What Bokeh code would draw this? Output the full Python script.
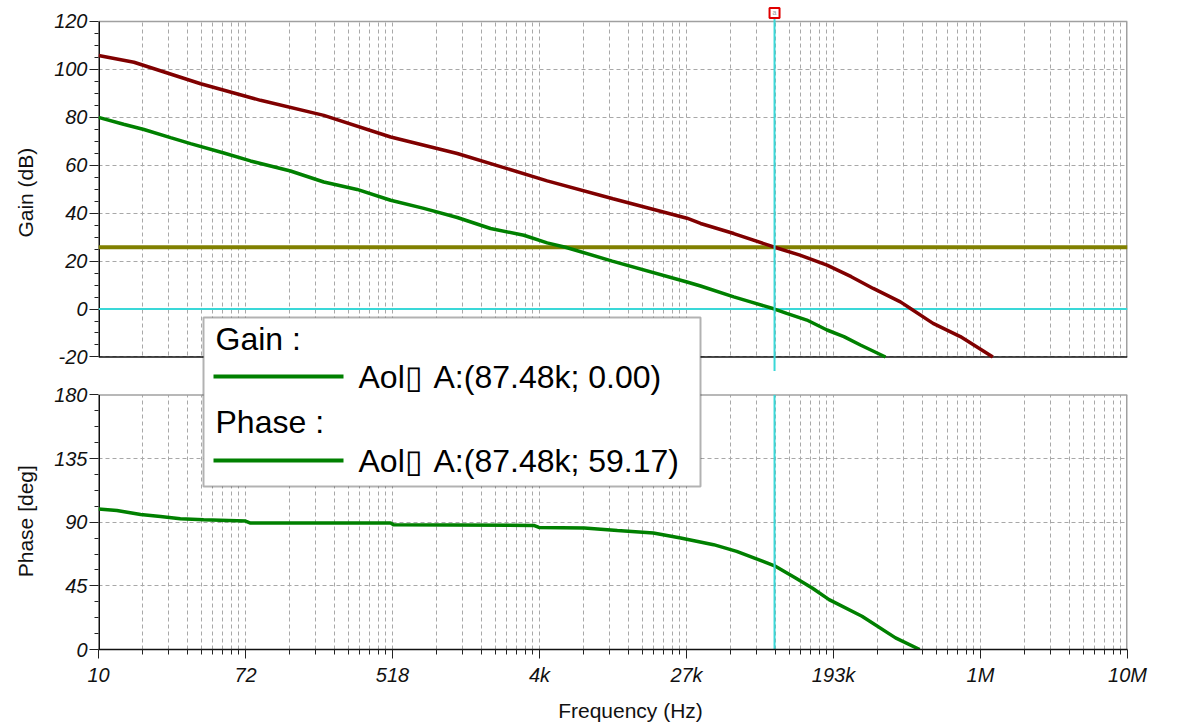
import numpy as np
from bokeh.plotting import figure
from bokeh.models import Range1d, FixedTicker, Label, BoxAnnotation
from bokeh.embed import file_html
from bokeh.resources import INLINE

# ---------------- data ----------------
green_gain_freq = [10, 14, 18.4, 26.3, 34.4, 53.8, 76.9, 131.7, 206, 322, 505, 789, 1236,
                   1932, 3023, 4131, 5280, 9900, 27000, 32400, 50600, 63400, 87480,
                   103000, 135000, 177000, 222000, 277000, 388000]
green_gain_db = [80.0, 77.1, 74.9, 71.5, 69.0, 65.1, 61.8, 57.6, 53.0, 49.9, 45.4, 42.0, 38.2,
                 33.6, 30.8, 27.6, 25.8, 20.0, 11.3, 9.6, 5.1, 3.0, 0.0,
                 -1.8, -4.6, -8.75, -11.5, -15.0, -20.0]

red_gain_freq = [10, 16.1, 39.4, 88, 206, 505, 1236, 4131, 10000, 27000, 32400, 50600,
                 87480, 123000, 177000, 245000, 329000, 474000, 540000, 735000, 1060000, 1640000]
red_gain_db = [105.8, 103.0, 94.0, 87.1, 80.8, 71.8, 64.9, 53.5, 46.0, 37.9, 35.7, 31.5,
               25.8, 22.5, 18.3, 13.5, 8.6, 3.0, 0.3, -6.0, -11.5, -20.0]

phase_freq = [10, 12.8, 17.6, 23, 30, 41, 72, 77, 505, 525, 3450, 3700, 6800, 10600, 17200,
              24800, 38600, 52600, 75000, 87480, 116000, 145000, 182000, 283000, 444000, 614000]
phase_deg = [99.3, 98.3, 95.5, 94.1, 92.5, 91.8, 90.8, 89.4, 89.4, 88.2, 87.7, 86.3, 85.9, 84.2,
             82.4, 78.8, 74.1, 69.4, 62.3, 59.17, 50.6, 43.5, 35.3, 23.5, 8.2, 0.0]

cursor_freq = 87480
cursor_gain = 0.00
cursor_phase = 59.17
ref_level_db = 25.8

x_tick_labels = ["10", "72", "518", "4k", "27k", "193k", "1M", "10M"]
gain_ticks = [-20, 0, 20, 40, 60, 80, 100, 120]
phase_ticks = [0, 45, 90, 135, 180]

# ---------------- layout constants ----------------
F_MIN, F_MAX = 10.0, 1e7
G_FTOP, G_BOT = 126.667, -142.0833   # gain-coordinate span of the whole frame
P_BOT, P_FTOP = 0.0, 455.29          # phase-coordinate span of the whole frame


def ph2g(v):
    return G_BOT + (v - P_BOT) / (P_FTOP - P_BOT) * (G_FTOP - G_BOT)


FONT = "Liberation Sans"
GRID = "#a8a8a8"
CYAN = "#3ad8d8"
NB = "\u00a0"

p = figure(width=1168, height=724, x_axis_type="log",
           x_range=Range1d(F_MIN, F_MAX), y_range=Range1d(G_BOT, G_FTOP),
           output_backend="svg", toolbar_location=None,
           min_border_left=98, min_border_right=41, min_border_top=5, min_border_bottom=74)
p.extra_y_ranges = {"phase": Range1d(P_BOT, P_FTOP)}
p.outline_line_color = None
p.background_fill_color = "white"
p.border_fill_color = "white"

# x ticks: equal log spacing, minor grid like a compressed decade grid
n = len(x_tick_labels)
majors = [float(F_MIN * (F_MAX / F_MIN) ** (i / (n - 1))) for i in range(n)]
minors = []
for i in range(n - 1):
    r = majors[i + 1] / majors[i]
    for k in range(2, 10):
        minors.append(float(majors[i] * r ** np.log10(k)))
xt = FixedTicker(ticks=majors, minor_ticks=minors)
p.xaxis.ticker = xt
p.xgrid.ticker = xt
p.xaxis.major_label_overrides = {m: lab for m, lab in zip(majors, x_tick_labels)}

# y ticks: gain ticks + phase ticks mapped into the shared frame
yt_major = [float(g) for g in gain_ticks] + [float(ph2g(v)) for v in phase_ticks]
yt_minor = [float(g) for g in np.arange(-15, 120, 5) if g % 20 != 0]
yt_minor += [float(ph2g(v)) for v in np.arange(11.25, 180, 11.25) if v % 45 != 0]
yt = FixedTicker(ticks=yt_major, minor_ticks=yt_minor)
p.yaxis.ticker = yt
p.ygrid.ticker = yt
ov = {float(g): str(g) for g in gain_ticks}
ov.update({float(ph2g(v)): str(v) for v in phase_ticks})
p.yaxis.major_label_overrides = ov

for ax in (p.xaxis, p.yaxis):
    ax.major_label_text_font = FONT
    ax.major_label_text_font_style = "italic"
    ax.major_label_text_font_size = "20px"
    ax.major_label_text_color = "#111111"
    ax.major_tick_in = 0
    ax.minor_tick_in = 0
    ax.major_tick_line_color = "#222222"
    ax.minor_tick_line_color = "#222222"
    ax.axis_label_text_font = FONT
    ax.axis_label_text_font_style = "normal"
    ax.axis_label_text_font_size = "21px"
    ax.axis_label_text_color = "#111111"

p.xaxis.major_tick_out = 9
p.xaxis.minor_tick_out = 5
p.xaxis.major_label_standoff = 5
p.xaxis.axis_line_color = "#111111"
p.xaxis.axis_line_width = 1.5
p.xaxis.axis_label = NB * 6 + "Frequency (Hz)"
p.xaxis.axis_label_standoff = 10

p.yaxis.major_tick_out = 9
p.yaxis.minor_tick_out = 4
p.yaxis.major_label_standoff = 2
p.yaxis.axis_line_color = None
p.yaxis.axis_label = "Phase [deg]" + NB * 39 + "Gain (dB)" + NB * 12
p.yaxis.axis_label_standoff = 14

p.xgrid.grid_line_color = GRID
p.xgrid.grid_line_dash = "4 3"
p.xgrid.minor_grid_line_color = GRID
p.xgrid.minor_grid_line_dash = "4 3"
p.ygrid.grid_line_color = GRID
p.ygrid.grid_line_dash = "4 3"

# blank strip above the gain pane and blank gap between the two panes
p.quad(left=F_MIN, right=F_MAX, top=G_FTOP, bottom=gain_ticks[-1],
       fill_color="white", line_color=None)
p.quad(left=F_MIN, right=F_MAX, top=gain_ticks[0], bottom=ph2g(phase_ticks[-1]),
       fill_color="white", line_color=None)

# pane borders (light gray top/right)
p.line([F_MIN, F_MAX], [gain_ticks[-1]] * 2, line_color="#a0a0a0", line_width=1.5)
p.line([F_MAX, F_MAX], [gain_ticks[0], gain_ticks[-1]], line_color="#a0a0a0", line_width=3)
p.line([F_MIN, F_MAX], [phase_ticks[-1]] * 2, y_range_name="phase", line_color="#a0a0a0", line_width=1.5)
p.line([F_MAX, F_MAX], [phase_ticks[0], phase_ticks[-1]], y_range_name="phase",
       line_color="#a0a0a0", line_width=3)
# left axis lines (per pane)
p.line([F_MIN, F_MIN], [gain_ticks[0], gain_ticks[-1]], line_color="#111111", line_width=3)
p.line([F_MIN, F_MIN], [phase_ticks[0], phase_ticks[-1]], y_range_name="phase",
       line_color="#111111", line_width=3)
# bottom axis line of the gain pane
p.line([F_MIN, F_MAX], [gain_ticks[0]] * 2, line_color="#111111", line_width=1.5)

# 0 dB cursor line and reference level
p.line([F_MIN, F_MAX], [cursor_gain] * 2, line_color=CYAN, line_width=2)
p.line([F_MIN, F_MAX], [ref_level_db] * 2, line_color="#808000", line_width=4)

# curves
p.line(red_gain_freq, red_gain_db, line_color="#800000", line_width=3.5)
p.line(green_gain_freq, green_gain_db, line_color="#008000", line_width=3.5)
p.line(phase_freq, phase_deg, y_range_name="phase", line_color="#008000", line_width=3.5)

# vertical cursor (slightly overshooting the gain pane, as in the original)
p.line([cursor_freq] * 2, [gain_ticks[-1] + 2.9, gain_ticks[0] - 5.83], line_color=CYAN, line_width=2)
p.line([cursor_freq] * 2, [phase_ticks[0], phase_ticks[-1]], y_range_name="phase",
       line_color=CYAN, line_width=2)

# cursor marker at the top
p.scatter([cursor_freq], [gain_ticks[-1] + 3.55], marker="square", size=10,
          fill_color="white", line_color="#e00000", line_width=2)
p.text([cursor_freq], [gain_ticks[-1] + 3.55], text=["a"], text_font_size="7px",
       text_color="#999999", text_align="center", text_baseline="middle")

# legend box
p.add_layout(BoxAnnotation(left=105, right=602, top=332, bottom=163,
                           left_units="screen", right_units="screen",
                           top_units="screen", bottom_units="screen",
                           fill_color="white", fill_alpha=1, line_color="black", line_width=2))
for ytop in (275, 191):
    p.add_layout(BoxAnnotation(left=115, right=245, top=ytop, bottom=ytop - 4,
                               left_units="screen", right_units="screen",
                               top_units="screen", bottom_units="screen",
                               fill_color="#008000", fill_alpha=1, line_color=None))

legend_rows = [
    (117, 311, "Gain :"),
    (260, 273, "Aol\u25af"),
    (335, 273, "A:(%.2fk; %.2f)" % (cursor_freq / 1000, cursor_gain)),
    (117, 228, "Phase :"),
    (260, 189, "Aol\u25af"),
    (335, 189, "A:(%.2fk; %.2f)" % (cursor_freq / 1000, cursor_phase)),
]
for lx, ly, txt in legend_rows:
    p.add_layout(Label(x=lx, y=ly, x_units="screen", y_units="screen", text=txt,
                       text_align="left", text_baseline="middle",
                       text_font=FONT, text_font_size="32px", text_color="black"))

open("out.html", "w").write(file_html(p, INLINE))
